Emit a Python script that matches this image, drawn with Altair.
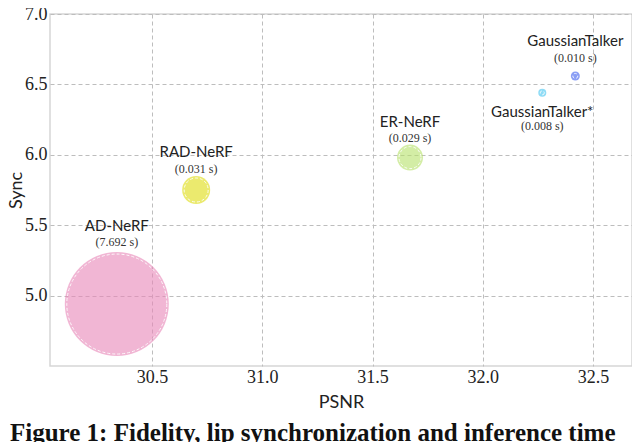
import altair as alt
import pandas as pd

methods = ["AD-NeRF", "RAD-NeRF", "ER-NeRF", "GaussianTalker", "GaussianTalker*"]
psnr = [30.34, 30.70, 31.67, 32.42, 32.27]
sync = [4.94, 5.75, 5.98, 6.56, 6.44]
times = [7.692, 0.031, 0.029, 0.010, 0.008]
time_labels = ["(7.692 s)", "(0.031 s)", "(0.029 s)", "(0.010 s)", "(0.008 s)"]
# annotation anchor positions (data units)
name_y = [5.495, 6.017, 6.233, 6.807, 6.303]
time_y = [5.378, 5.901, 6.122, 6.691, 6.203]
colors = ["#e885b7", "#dedc0d", "#b6e169", "#3c5dee", "#44c5f0"]

x_ticks = [30.5, 31.0, 31.5, 32.0, 32.5]
y_ticks = [5.0, 5.5, 6.0, 6.5, 7.0]

df = pd.DataFrame({
    "method": methods, "psnr": psnr, "sync": sync, "time": times,
    "tlabel": time_labels, "name_y": name_y, "time_y": time_y,
})

W, H = 582, 352
xs = alt.Scale(domain=[30.037, 32.677], nice=False, zero=False)
ys = alt.Scale(domain=[4.5, 7.0], nice=False, zero=False)

SERIF = "Liberation Serif"
TICKFONT = "Times New Roman, Liberation Serif, serif"
common = dict(grid=True, gridDash=[4, 3], gridColor="#bdbdbd", gridWidth=1,
              ticks=False, domain=False, labelFont=TICKFONT,
              labelFontSize=18, labelColor="#222", titleFont="Lato",
              titleFontSize=18, titleFontWeight="normal", titleColor="#222",
              format=".1f")
x_axis = alt.Axis(values=x_ticks, title="PSNR", labelPadding=2, titleY=36,
                  titleBaseline="middle", **common)
y_axis = alt.Axis(values=y_ticks, title="Sync", labelPadding=3, titleX=-34,
                  titleY=H / 2, titleBaseline="middle", titleAngle=-90, **common)

X = alt.X("psnr:Q", scale=xs, axis=x_axis)
color = alt.Color("method:N", scale=alt.Scale(domain=methods, range=colors), legend=None)

base = alt.Chart(df)

bubbles = base.mark_circle(opacity=0.6).encode(
    x=X,
    y=alt.Y("sync:Q", scale=ys, axis=y_axis),
    color=color,
    size=alt.Size("time:Q", legend=None,
                  scale=alt.Scale(domain=[0.008, 0.010, 0.029, 0.031, 7.692],
                                  range=[64, 81, 676, 784, 10816])),
)

rings = base.mark_point(shape="circle", filled=False, stroke="white",
                        strokeWidth=1, strokeDash=[3, 2], opacity=0.9).encode(
    x=X,
    y=alt.Y("sync:Q", scale=ys, axis=y_axis),
    size=alt.Size("time:Q", legend=None,
                  scale=alt.Scale(domain=[0.008, 0.010, 0.029, 0.031, 7.692],
                                  range=[16, 25, 484, 576, 10000])),
)

names = base.mark_text(font="Lato", fontSize=15, color="#222",
                       baseline="middle", align="center").encode(
    x=X,
    y=alt.Y("name_y:Q", scale=ys, axis=y_axis),
    text="method:N",
)

tlabels = base.mark_text(font=SERIF, fontSize=12, color="#333",
                         baseline="middle", align="center").encode(
    x=X,
    y=alt.Y("time_y:Q", scale=ys, axis=y_axis),
    text="tlabel:N",
)

chart = alt.layer(bubbles, rings, names, tlabels).resolve_scale(
    size="independent"
).properties(
    width=W, height=H,
    autosize=alt.AutoSizeParams(type="none"),
    padding={"left": 42, "top": 6, "right": 0, "bottom": 90},
    title=alt.TitleParams(
        text="Figure 1: Fidelity, lip synchronization and inference time",
        orient="bottom", anchor="start", frame="group", dx=-40, offset=10,
        font=SERIF, fontSize=25, fontWeight="bold", color="#111",
    ),
).configure(
    font=SERIF,
    style={"guide-label": {"font": TICKFONT, "fontSize": 18}},
).configure_axisX(
    labelFont=TICKFONT,
).configure_axisY(
    labelFont=TICKFONT,
).configure_view(stroke="#d6d6d6", strokeWidth=1.5)

chart.save("out.html", embed_options={"renderer": "svg", "actions": False})
